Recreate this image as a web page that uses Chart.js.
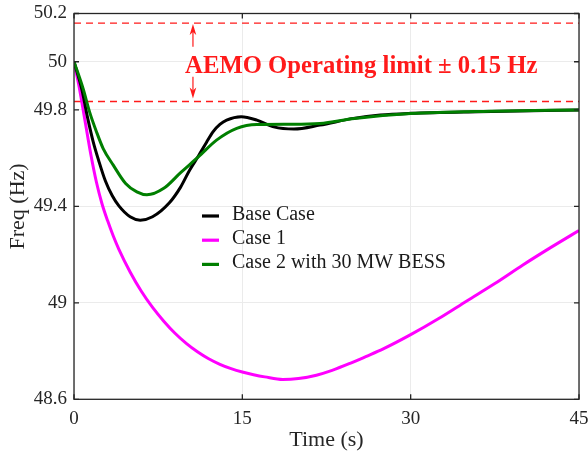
<!DOCTYPE html>
<html>
<head>
<meta charset="utf-8">
<title>Frequency response</title>
<script src="https://cdn.jsdelivr.net/npm/chart.js@4.4.1/dist/chart.umd.min.js"></script>
<style>
  html, body { margin: 0; padding: 0; background: #fff; }
  #wrap { width: 588px; height: 458px; }
</style>
</head>
<body>
<div id="wrap"><canvas id="freq-chart" width="588" height="458"></canvas></div>
<script>
// ===== DATA =====
const seriesNames = ["Base Case", "Case 1", "Case 2 with 30 MW BESS"];

const baseTime = [0, 0.7, 1.2, 1.7, 2.2, 2.8, 3.4, 4.0, 5.0, 5.9, 7.0, 8.5, 9.5, 10.3, 11.1, 11.8, 12.4, 13.0, 13.6, 14.9, 16.3, 17.8, 19.6, 21.9, 24.9, 27.3, 30, 36, 45];
const baseFreq = [50, 49.885, 49.77, 49.67, 49.59, 49.505, 49.445, 49.402, 49.357, 49.343, 49.357, 49.415, 49.48, 49.55, 49.61, 49.665, 49.71, 49.74, 49.758, 49.772, 49.758, 49.73, 49.721, 49.737, 49.765, 49.779, 49.786, 49.793, 49.80];

const case1Time = [0, 0.5, 1.0, 1.5, 2.0, 2.5, 3.0, 3.5, 4.0, 5.0, 6.0, 7.0, 8.0, 9.0, 10.0, 11.0, 12.0, 13.0, 14.0, 15.0, 16.0, 17.0, 18.6, 20.0, 21.6, 23.0, 24.6, 26.0, 27.6, 30, 32.5, 35, 37.5, 40, 42.5, 45];
const case1Freq = [50, 49.885, 49.75, 49.615, 49.50, 49.41, 49.34, 49.277, 49.222, 49.128, 49.048, 48.981, 48.924, 48.874, 48.832, 48.797, 48.768, 48.745, 48.727, 48.713, 48.702, 48.693, 48.682, 48.686, 48.70, 48.72, 48.749, 48.777, 48.81, 48.868, 48.935, 49.008, 49.08, 49.157, 49.23, 49.30];

const case2Time = [0, 0.8, 1.4, 2.0, 2.6, 3.5, 4.6, 5.6, 6.5, 8.0, 9.5, 11.1, 12.7, 14.5, 16.3, 19.3, 21.9, 25, 30, 37, 45];
const case2Freq = [50, 49.89, 49.79, 49.71, 49.64, 49.571, 49.495, 49.46, 49.448, 49.475, 49.54, 49.606, 49.675, 49.724, 49.74, 49.741, 49.744, 49.765, 49.785, 49.795, 49.80];

const xTicks = [0, 15, 30, 45];
const yTicks = [48.6, 49, 49.4, 49.8, 50, 50.2];

// operating band (dashed) and the arrows that point at it
const limitHigh = 50.16;
const limitLow  = 49.835;
const limitLabel = "AEMO Operating limit \u00b1 0.15 Hz";
const arrowTime = 10.6;
const arrowUp   = [50.062, 50.156];   // tail, tip
const arrowDown = [49.938, 49.848];

const colors = ["#000000", "#ff00ff", "#007f00"];
const red    = "#ff1a1a";
const serif  = "'Liberation Serif', 'Times New Roman', serif";
const ink    = "#262626";

const toPoints = (ts, fs) => ts.map((t, i) => ({ x: t, y: fs[i] }));

// ===== PLUGINS =====
const frameTicks = {
  id: "frameTicks",
  afterDatasetsDraw(chart) {
    const { ctx, chartArea: a, scales: { x, y } } = chart;
    ctx.save();
    ctx.strokeStyle = ink;
    ctx.lineWidth = 1.3;
    ctx.strokeRect(a.left, a.top, a.right - a.left, a.bottom - a.top);
    ctx.beginPath();
    xTicks.forEach(v => {
      const px = x.getPixelForValue(v);
      ctx.moveTo(px, a.bottom); ctx.lineTo(px, a.bottom - 5);
      ctx.moveTo(px, a.top);    ctx.lineTo(px, a.top + 5);
    });
    yTicks.forEach(v => {
      const py = y.getPixelForValue(v);
      ctx.moveTo(a.left, py);  ctx.lineTo(a.left + 5, py);
      ctx.moveTo(a.right, py); ctx.lineTo(a.right - 5, py);
    });
    ctx.stroke();
    ctx.restore();
  }
};

function drawArrow(ctx, px, y0, y1) {
  const dir = y1 < y0 ? 1 : -1;
  ctx.beginPath();
  ctx.moveTo(px, y0);
  ctx.lineTo(px, y1 + dir * 8);
  ctx.stroke();
  ctx.beginPath();
  ctx.moveTo(px, y1);
  ctx.lineTo(px - 3.3, y1 + dir * 11);
  ctx.lineTo(px, y1 + dir * 8);
  ctx.lineTo(px + 3.3, y1 + dir * 11);
  ctx.closePath();
  ctx.fill();
}

const limitNote = {
  id: "limitNote",
  afterDraw(chart) {
    const { ctx, scales: { x, y } } = chart;
    ctx.save();
    ctx.strokeStyle = red;
    ctx.fillStyle = red;
    ctx.lineWidth = 1.2;
    const ax = x.getPixelForValue(arrowTime);
    drawArrow(ctx, ax, y.getPixelForValue(arrowUp[0]), y.getPixelForValue(arrowUp[1]));
    drawArrow(ctx, ax, y.getPixelForValue(arrowDown[0]), y.getPixelForValue(arrowDown[1]));
    ctx.font = "bold 24.7px " + serif;
    ctx.textBaseline = "alphabetic";
    ctx.textAlign = "left";
    ctx.fillText(limitLabel, x.getPixelForValue(9.9), y.getPixelForValue(49.955));
    ctx.restore();
  }
};

const innerLegend = {
  id: "innerLegend",
  afterDraw(chart) {
    const { ctx, chartArea: a } = chart;
    const left = a.left + 128;
    const top  = a.top + 202.5;
    ctx.save();
    ctx.font = "20px " + serif;
    ctx.textBaseline = "middle";
    ctx.lineWidth = 3.2;
    seriesNames.forEach((name, i) => {
      const cy = top + i * 24.2;
      ctx.strokeStyle = colors[i];
      ctx.beginPath();
      ctx.moveTo(left, cy); ctx.lineTo(left + 17, cy);
      ctx.stroke();
      ctx.fillStyle = "#1a1a1a";
      ctx.fillText(name, left + 30, cy - 1.5);
    });
    ctx.restore();
  }
};

// ===== CHART =====
const curve = (label, pts, color, order) => ({
  label, data: pts, borderColor: color, borderWidth: 3, pointRadius: 0,
  cubicInterpolationMode: "monotone", fill: false, order
});
const limitLine = (value) => ({
  label: "limit", data: [{ x: 0, y: value }, { x: 45, y: value }],
  borderColor: red, borderWidth: 1.3, borderDash: [7, 5], pointRadius: 0, order: 3
});

// fixed axis boxes, no extra room reserved for edge labels
const fitX = s => { s.height = 58.7; s.paddingLeft = 0; s.paddingRight = 0; };
const fitY = s => { s.width = 74; s.paddingTop = 0; s.paddingBottom = 0; };

new Chart(document.getElementById("freq-chart"), {
  type: "line",
  data: {
    datasets: [
      curve(seriesNames[0], toPoints(baseTime, baseFreq), colors[0], 1),
      curve(seriesNames[1], toPoints(case1Time, case1Freq), colors[1], 2),
      curve(seriesNames[2], toPoints(case2Time, case2Freq), colors[2], 0),
      limitLine(limitHigh),
      limitLine(limitLow)
    ]
  },
  options: {
    responsive: false,
    animation: false,
    devicePixelRatio: 1,
    layout: { autoPadding: false, padding: { top: 13.5, right: 9, left: 0, bottom: 0 } },
    plugins: { legend: { display: false }, tooltip: { enabled: false } },
    scales: {
      x: {
        type: "linear", min: 0, max: 45,
        afterBuildTicks: s => { s.ticks = xTicks.map(v => ({ value: v })); },
        afterFit: fitX,
        ticks: { color: ink, font: { family: serif, size: 19 }, padding: 8, maxRotation: 0 },
        grid: { color: "#ebebeb", drawTicks: false },
        border: { display: false },
        title: { display: true, text: "Time (s)", color: ink, font: { family: serif, size: 22 }, padding: { top: 0, bottom: 5 } }
      },
      y: {
        type: "linear", min: 48.6, max: 50.2,
        afterBuildTicks: s => { s.ticks = yTicks.map(v => ({ value: v })); },
        afterFit: fitY,
        ticks: { color: ink, font: { family: serif, size: 19 }, padding: 7, callback: v => String(v) },
        grid: { color: "#ebebeb", drawTicks: false },
        border: { display: false },
        title: { display: true, text: "Freq (Hz)", color: ink, font: { family: serif, size: 22 }, padding: { top: 5, bottom: 0 } }
      }
    }
  },
  plugins: [frameTicks, limitNote, innerLegend]
});
</script>
</body>
</html>
